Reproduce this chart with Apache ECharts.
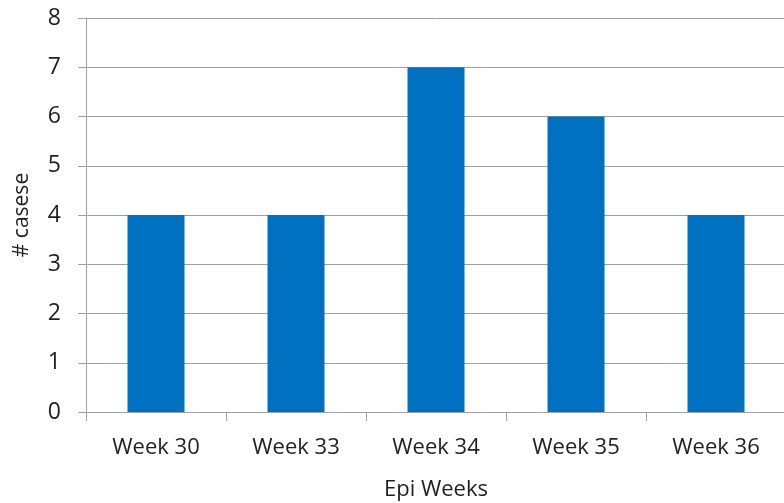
<!DOCTYPE html>
<html><head><meta charset="utf-8">
<script src="https://cdn.jsdelivr.net/npm/echarts@6/dist/echarts.min.js"></script>
<style>html,body{margin:0;padding:0;background:#fff}#c{width:784px;height:503px}</style>
</head><body><div id="c"></div>
<script>
const categories = ['Week 30','Week 33','Week 34','Week 35','Week 36'];
const cases = [4, 4, 7, 6, 4];
const yTicks = [0,1,2,3,4,5,6,7,8];

const chart = echarts.init(document.getElementById('c'), null, {renderer:'canvas'});
const font = '"Open Sans", "Noto Sans", sans-serif';
chart.setOption({
  animation:false,
  backgroundColor:'#fff',
  grid:{left:86, top:18, right:-2, bottom:91, containLabel:false, outerBoundsMode:'none'},
  xAxis:{
    type:'category', data:categories,
    name:'Epi Weeks', nameLocation:'middle', nameGap:67,
    nameTextStyle:{fontFamily:font, fontSize:22, color:'#1f1f1f'},
    axisLine:{lineStyle:{color:'#a0a0a0', width:1}},
    axisTick:{show:true, length:9, alignWithLabel:false, lineStyle:{color:'#a0a0a0'}},
    axisLabel:{fontFamily:font, fontSize:22, color:'#1f1f1f', margin:25}
  },
  yAxis:{
    type:'value', min:yTicks[0], max:yTicks[yTicks.length-1], interval:1,
    name:'# casese', nameLocation:'middle', nameGap:53, nameRotate:90,
    nameTextStyle:{fontFamily:font, fontSize:21, color:'#1f1f1f'},
    axisLine:{show:true, lineStyle:{color:'#a0a0a0', width:1}},
    axisTick:{show:true, length:8, lineStyle:{color:'#a0a0a0'}},
    axisLabel:{fontFamily:font, fontSize:23, color:'#1f1f1f', margin:25},
    splitLine:{show:true, lineStyle:{color:'#a0a0a0', width:1}}
  },
  series:[{
    type:'bar', data:cases, barWidth:57,
    itemStyle:{color:'#0070C0'}
  }]
});
</script></body></html>
